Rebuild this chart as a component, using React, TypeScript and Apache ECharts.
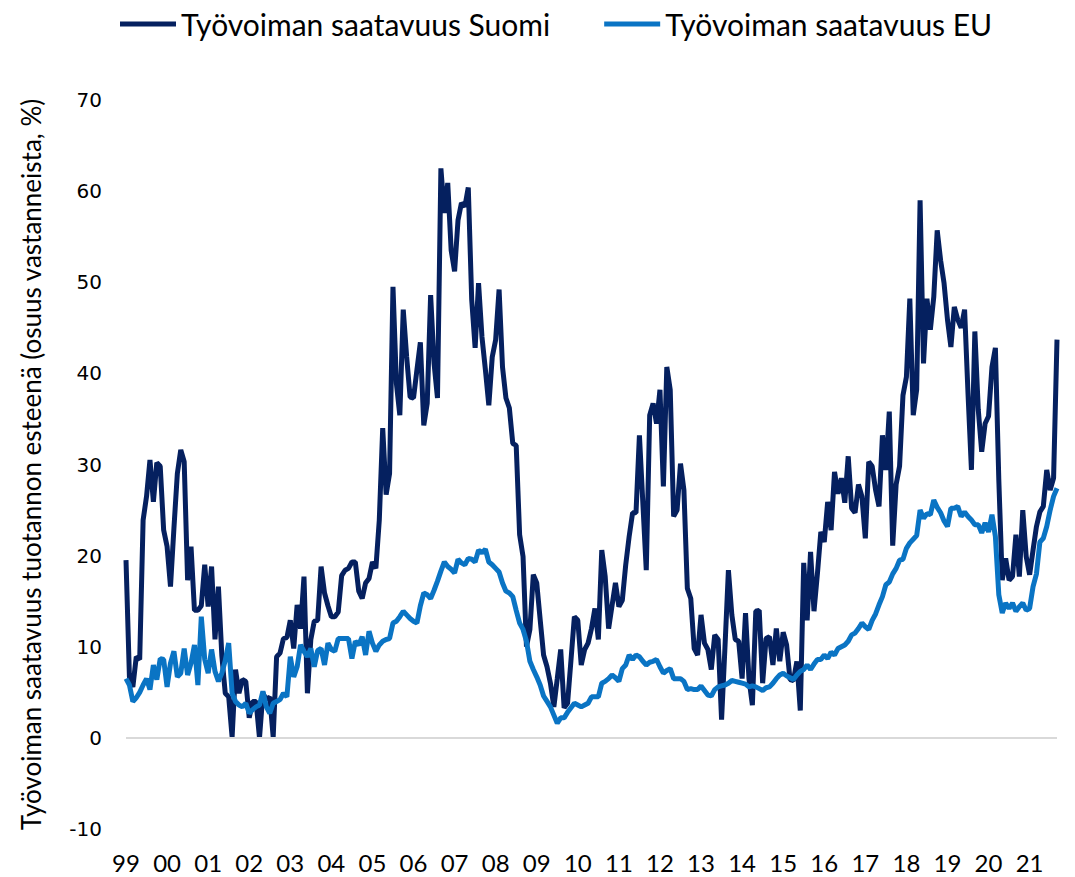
import React, { useEffect, useRef } from "react";
import * as echarts from "echarts";

const START_YEAR = 1999;

// Työvoiman saatavuus tuotannon esteenä, Suomi (monthly, Jan 1999 – Sep 2021)
const suomi: number[] = [
  19.5, 6.7, 5.6, 8.9, 8.6, 23.9, 26.5, 30.5, 25.9, 30.2, 29.8, 22.8, // 1999
  21, 16.6, 23, 29, 31.6, 30.3, 17.3, 21, 14, 14, 14.5, 19, // 2000
  14.4, 18.8, 10.8, 16.6, 9, 4.9, 4.5, 0.1, 7.5, 4.9, 6.4, 6.2, // 2001
  2.2, 4, 4, 0, 4.9, 4.2, 4.5, 0.1, 8.9, 9.3, 10.9, 11, // 2002
  12.9, 9.8, 14.6, 12, 17.7, 4.9, 10.8, 12.8, 12.9, 18.8, 15.9, 14.5, // 2003
  13.3, 13.3, 13.8, 17.8, 18.4, 18.6, 19.3, 19.3, 16.1, 15.3, 17, 17.5, // 2004
  19.3, 18.6, 23.9, 34, 26.7, 29, 49.5, 38.9, 35.4, 47, 41.8, 37.4, // 2005
  37.3, 40.4, 43.4, 34.3, 36.7, 48.6, 41.1, 37.3, 62.5, 57.6, 60.9, 53.5, // 2006
  51.2, 56.8, 58.7, 58.3, 60.4, 48.1, 42.8, 49.9, 44, 40.4, 36.5, 41.8, // 2007
  43.7, 49.2, 40.7, 37.3, 36.2, 32.3, 32.1, 22.3, 19.9, 10, 11.9, 17.9, // 2008
  17, 13, 9.1, 7.8, 6, 3.4, 6.5, 9.7, 3.3, 3.8, 8.5, 13.3, // 2009
  12.9, 8, 9.7, 10.4, 12, 14.2, 10.8, 20.6, 17.7, 12, 14.5, 17, // 2010
  14.4, 15.1, 19, 22.1, 24.7, 24.7, 33.2, 25.8, 18.4, 35.4, 36.7, 34.5, // 2011
  38.2, 27.6, 40.7, 38.2, 24.3, 25, 30.1, 27.2, 16.4, 15.3, 9.8, 9.1, // 2012
  13.5, 10.4, 9.7, 7.5, 11.3, 10.8, 2, 10, 18.4, 13.5, 10.8, 10.6, // 2013
  6.5, 13.7, 6.5, 3.6, 13.9, 14, 6, 10.9, 11.1, 8, 12, 8.4, // 2014
  11.6, 10.2, 6.4, 6.3, 8.4, 3, 19.2, 12.9, 20.4, 13.9, 18, 22.6, // 2015
  21.5, 25.9, 22.8, 29.2, 26.8, 28.5, 25.8, 30.9, 25.2, 24.7, 27.8, 26.5, // 2016
  21.9, 30.3, 29.8, 27.2, 25.4, 33.2, 29.4, 35.8, 21.1, 27.8, 29.8, 37.6, // 2017
  39.6, 48.2, 35.4, 38.2, 59, 41.1, 48.2, 44.8, 48.4, 55.7, 52.4, 49.9, // 2018
  45.9, 42.9, 47.3, 45.9, 45, 47, 37.8, 29.4, 44.6, 36, 31.4, 34.5, // 2019
  35.3, 40.7, 42.8, 28.3, 17.3, 19.7, 17.3, 17.7, 22.3, 17.7, 25, 19.9, // 2020
  17.9, 20.6, 23.2, 24.8, 25.4, 29.4, 27.2, 28.5, 43.7, // 2021
];

// Työvoiman saatavuus tuotannon esteenä, EU
const eu: number[] = [
  6.5, 5.8, 4, 4.4, 5, 5.8, 6.5, 5.3, 8, 6.4, 8.7, 8.6, // 1999
  5.6, 8.2, 9.5, 6.7, 7.1, 9.8, 6.9, 8.2, 10.2, 5.8, 13.3, 8.6, // 2000
  7.1, 9.7, 7.3, 6.2, 7.1, 8.5, 10.4, 4.9, 4, 3.6, 3.4, 3.8, // 2001
  2.7, 3.1, 3.4, 3.6, 5.1, 3.4, 2.7, 3.8, 4, 4.2, 4.9, 4.5, // 2002
  8.9, 6.7, 7.8, 10.2, 9.5, 8.9, 9.8, 7.8, 9.6, 9.8, 8, 10.4, // 2003
  9.7, 9.5, 10.9, 10.9, 10.9, 10.9, 8.7, 10.6, 10.2, 11.1, 9.1, 11.7, // 2004
  10.4, 9.5, 10.2, 10.6, 10.8, 10.9, 12.6, 12.8, 13.3, 13.9, 13.5, 13.1, // 2005
  12.8, 12.6, 14.5, 15.9, 15.7, 15.3, 16.2, 17.2, 18.3, 19.3, 18.8, 18.5, // 2006
  18.1, 19.6, 19.2, 19, 19.7, 19.6, 19.3, 20.6, 20.3, 20.7, 19.3, 19, // 2007
  18.6, 18.2, 17, 16.1, 15.9, 15.5, 14, 12.6, 11.9, 10.6, 8.4, 7.5, // 2008
  6.7, 5.8, 4.6, 4, 3.4, 2.5, 1.6, 2.2, 2.2, 2.8, 3.3, 3.8, // 2009
  3.6, 3.4, 3.6, 3.8, 4.5, 4.5, 4.5, 6, 6.2, 6.5, 6.9, 6.6, // 2010
  6.2, 7.6, 8, 9.1, 8.6, 9.1, 8.9, 8.4, 8, 8.3, 8.4, 8.6, // 2011
  7.8, 7.1, 7.4, 7.6, 6.5, 6.5, 6.5, 6.2, 5.3, 5.4, 5.3, 5.3, // 2012
  5.7, 5.2, 4.7, 4.6, 5.3, 5.6, 5.7, 5.8, 6, 6.3, 6.2, 6.1, // 2013
  6, 5.9, 5.6, 5.7, 5.6, 5.4, 5.2, 5.5, 5.6, 6, 6.5, 6.9, // 2014
  7.1, 6.8, 6.6, 6.4, 6.9, 7.3, 7.5, 8, 7.5, 8.1, 8.6, 8.6, // 2015
  9.1, 8.7, 9.4, 9.1, 9.8, 10, 10.2, 10.6, 11.3, 11.5, 12, 12.6, // 2016
  12.2, 11.9, 12.9, 13.6, 14.6, 15.5, 16.8, 17.1, 18, 18.6, 19.5, 19.6, // 2017
  20.8, 21.4, 21.8, 22.2, 25, 24.1, 24.6, 24.5, 26.1, 25.3, 24.7, 23.8, // 2018
  23.2, 25.2, 25.2, 25.4, 24.3, 24.8, 24.3, 23.9, 23.4, 23.4, 22.5, 23.6, // 2019
  22.6, 24.5, 22.1, 15.7, 13.7, 14.8, 14.2, 14.8, 13.9, 14.4, 14.8, 14, // 2020
  14.2, 16.6, 18, 21.5, 21.9, 23.2, 25, 26.5, 27.4, // 2021
];

const seriesNames = ["Työvoiman saatavuus Suomi", "Työvoiman saatavuus EU"];
const yAxisTitle = "Työvoiman saatavuus tuotannon esteenä (osuus vastanneista, %)";

// month categories, e.g. "1999-01"
const months: string[] = suomi.map((_, i) => {
  const y = START_YEAR + Math.floor(i / 12);
  const m = (i % 12) + 1;
  return `${y}-${m < 10 ? "0" + m : m}`;
});

const FONT = "Lato, 'Open Sans', sans-serif";

export default function App() {
  const ref = useRef<HTMLDivElement>(null);
  useEffect(() => {
    if (!ref.current) return;
    const chart = echarts.init(ref.current, undefined, { renderer: "svg" });
    chart.setOption({
      animation: false,
      backgroundColor: "#ffffff",
      legend: {
        top: 4,
        left: 115,
        itemGap: 54,
        itemWidth: 56,
        itemHeight: 5,
        icon: "rect",
        textStyle: { fontFamily: FONT, fontSize: 30, color: "#000" },
        data: seriesNames,
      },
      grid: { left: 126, right: 18, top: 100, bottom: 48, containLabel: false },
      xAxis: {
        type: "category",
        data: months,
        boundaryGap: false,
        axisLine: { show: false },
        axisTick: { show: false },
        splitLine: { show: false },
        axisLabel: {
          interval: (index: number) => index % 12 === 0,
          formatter: (v: string) => v.slice(2, 4),
          fontFamily: FONT,
          fontSize: 24,
          color: "#000",
          margin: 21,
        },
      },
      yAxis: {
        type: "value",
        min: -10,
        max: 70,
        interval: 10,
        axisLine: { show: false },
        axisTick: { show: false },
        splitLine: { show: false },
        axisLabel: {
          fontFamily: "'DejaVu Sans', Verdana, sans-serif",
          fontSize: 20,
          color: "#000",
          margin: 24,
        },
        name: yAxisTitle,
        nameLocation: "middle",
        nameRotate: 90,
        nameGap: 82,
        nameTextStyle: { fontFamily: FONT, fontSize: 26, color: "#000" },
      },
      series: [
        {
          name: seriesNames[0],
          type: "line",
          data: suomi,
          showSymbol: false,
          symbol: "none",
          lineStyle: { width: 5, color: "#05205f" },
          itemStyle: { color: "#05205f" },
          markLine: {
            silent: true,
            symbol: "none",
            label: { show: false },
            lineStyle: { color: "#d9d9d9", width: 2, type: "solid" },
            data: [{ yAxis: 0 }],
          },
          z: 2,
        },
        {
          name: seriesNames[1],
          type: "line",
          data: eu,
          showSymbol: false,
          symbol: "none",
          lineStyle: { width: 5, color: "#0a74c4" },
          itemStyle: { color: "#0a74c4" },
          z: 3,
        },
      ],
    });
    return () => chart.dispose();
  }, []);
  return (
    <div
      ref={ref}
      style={{ position: "fixed", left: 0, top: 0, width: 1075, height: 877, background: "#fff" }}
    />
  );
}
